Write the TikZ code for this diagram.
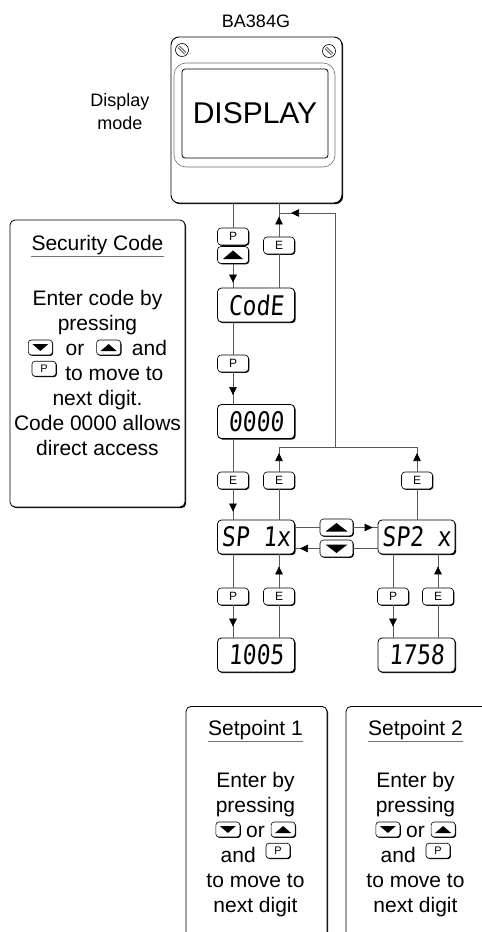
\documentclass[tikz,border=0pt]{standalone}
\usepackage{fontspec}
\setmainfont{Liberation Sans}
\newfontfamily\lcdfont[FakeSlant=0.08,FakeStretch=0.85]{DejaVu Sans Mono}
\usepackage{tikz}
\usetikzlibrary{arrows.meta, positioning, shadows, decorations.markings}

\tikzset{
  shadowed/.style={drop shadow={shadow xshift=1.2pt, shadow yshift=-1.2pt, fill=black, opacity=1}},
  housingbox/.style={draw, line width=0.9pt, rounded corners=8pt, fill=white, shadowed, minimum width=171pt, minimum height=166pt, inner sep=0pt},
  lcd/.style={draw, line width=0.8pt, rounded corners=4pt, fill=white, shadowed, minimum width=77pt, minimum height=34pt, inner sep=0pt, font=\lcdfont\fontsize{27}{27}\selectfont},
  key/.style={draw, line width=0.6pt, rounded corners=3.5pt, fill=white, drop shadow={shadow xshift=0.9pt, shadow yshift=-0.9pt, fill=black, opacity=1}, minimum width=31pt, minimum height=17pt, inner sep=0pt, font=\fontsize{12}{12}\selectfont},
  inkey/.style={key, rounded corners=3pt, minimum width=24pt, minimum height=15pt, font=\fontsize{11}{11}\selectfont},
  infobox/.style={draw, line width=0.8pt, rounded corners=5pt, fill=white, shadowed, inner sep=0pt},
  infotext/.style={anchor=base, inner sep=0pt, font=\fontsize{21}{25}\selectfont},
  uline/.style={draw=black!55, line width=0.8pt},
  conn/.style={draw=black!65, line width=0.6pt},
  tipat/.style={postaction={decorate}, decoration={markings, mark=at position #1 with {\arrow{Triangle[length=8pt, width=7.5pt, color=black]}}}},
  screw/.style={draw, line width=0.6pt, fill=white, circle, minimum size=13pt, inner sep=0pt}
}

% keys inside running text
\newcommand\kup{\tikz[x=1pt, y=1pt, baseline=-7.5pt]{\node[inkey] {}; \fill (-8,-3.5) -- (8,-3.5) -- (0,3.5) -- cycle;}}
\newcommand\kdown{\tikz[x=1pt, y=1pt, baseline=-7.5pt]{\node[inkey] {}; \fill (-8,3.5) -- (8,3.5) -- (0,-3.5) -- cycle;}}
\newcommand\kP{\tikz[x=1pt, y=1pt, baseline=-7.5pt]{\node[inkey] {P};}}

\begin{document}
\begin{tikzpicture}[x=1pt, y=-1pt]
  \useasboundingbox (0,0) rectangle (482,932);
  \clip (0,0) rectangle (482,932);

  % instrument
  \node (model) [anchor=base, font=\fontsize{18}{18}\selectfont] at (256,27) {BA384G};
  \node (housing) [housingbox] at (256.5,120) {};
  \draw[black!55, line width=0.6pt, rounded corners=12pt] (174,63) -- (335,63) -- (335,167) -- (174,167) -- cycle;
  \node (window) [draw, line width=0.8pt, rounded corners=3pt, minimum width=146pt, minimum height=89pt, font=\fontsize{30}{30}\selectfont] at (255,113.5) {DISPLAY};
  \foreach \sx/\sy [count=\i] in {182/50, 329/51} {
    \node (screw\i) [screw] at (\sx,\sy) {};
    \draw[line width=0.6pt] (\sx-4,\sy-2.5) -- (\sx+2.5,\sy+4) (\sx-2.5,\sy-4) -- (\sx+4,\sy+2.5);
  }
  \node (modelabel) [align=center, font=\fontsize{18}{23}\selectfont] at (120,112) {Display\\mode};

  % displays and keys
  \node (pkey1) [key] at (233,236.5) {P};
  \node (upkey1) [key] at (233,255) {};
  \node (ekey1) [key] at (279,245.5) {E};
  \node (code) [lcd] at (256,305) {CodE};
  \node (pkey2) [key] at (233,363.5) {P};
  \node (zero) [lcd] at (256,421.5) {0000};
  \node (ekey2) [key] at (233,480.5) {E};
  \node (ekey3) [key] at (279,480.5) {E};
  \node (ekey4) [key] at (417,480.5) {E};
  \node (sp1) [lcd] at (256,537) {SP 1x};
  \node (sp2) [lcd] at (416.5,537) {SP2 x};
  \node (upkey2) [key, minimum width=33pt] at (336.5,527.5) {};
  \node (dnkey2) [key, minimum width=33pt] at (336.5,548.5) {};
  \node (pkey3) [key] at (233,596.5) {P};
  \node (ekey5) [key] at (279,596.5) {E};
  \node (pkey4) [key] at (393,596.5) {P};
  \node (ekey6) [key] at (438,596.5) {E};
  \node (val1) [lcd] at (256,655) {1005};
  \node (val2) [lcd] at (416.5,655) {1758};
  \fill[shift={(upkey1.center)}] (-10,4) -- (10,4) -- (0,-4.5) -- cycle;
  \fill[shift={(upkey2.center)}] (-11,4) -- (11,4) -- (0,-4.5) -- cycle;
  \fill[shift={(dnkey2.center)}] (-11,-4) -- (11,-4) -- (0,4.5) -- cycle;

  % connectors
  \coordinate (looptop) at (335,213);
  \coordinate (loopbot) at (335,447);
  \draw[conn] (housing.south -| pkey1) -- (pkey1.north);
  \draw[conn, tipat=-5pt] (upkey1.south) -- (code.north -| upkey1);
  \draw[conn] (code.north -| ekey1) -- (ekey1.south);
  \draw[conn, tipat=-13pt] (ekey1.north) -- (housing.south -| ekey1);
  \draw[conn, tipat=-12pt] (loopbot) -- (looptop) -- (looptop -| ekey1);
  \draw[conn] (code.south -| pkey2) -- (pkey2.north);
  \draw[conn, tipat=-9pt] (pkey2.south) -- (zero.north -| pkey2);
  \draw[conn] (zero.south -| ekey2) -- (ekey2.north);
  \draw[conn, tipat=-8pt] (ekey2.south) -- (sp1.north -| ekey2);
  \draw[conn] (sp1.north -| ekey3) -- (ekey3.south);
  \draw[conn, tipat=-6pt] (ekey3.north) -- (loopbot -| ekey3);
  \draw[conn] (sp2.north -| ekey4) -- (ekey4.south);
  \draw[conn, tipat=-6pt] (ekey4.north) -- (loopbot -| ekey4);
  \draw[conn] (loopbot -| ekey3) -- (loopbot -| ekey4);
  \draw[conn] (sp1.east |- upkey2) -- (upkey2.west);
  \draw[conn, tipat=-5pt] (upkey2.east) -- (sp2.west |- upkey2);
  \draw[conn] (sp2.west |- dnkey2) -- (dnkey2.east);
  \draw[conn, tipat=-5pt] (dnkey2.west) -- (sp1.east |- dnkey2);
  \draw[conn] (sp1.south -| pkey3) -- (pkey3.north);
  \draw[conn, tipat=-11pt] (pkey3.south) -- (val1.north -| pkey3);
  \draw[conn] (val1.north -| ekey5) -- (ekey5.south);
  \draw[conn, tipat=-12pt] (ekey5.north) -- (sp1.south -| ekey5);
  \draw[conn] (sp2.south -| pkey4) -- (pkey4.north);
  \draw[conn, tipat=-11pt] (pkey4.south) -- (val2.north -| pkey4);
  \draw[conn] (val2.north -| ekey6) -- (ekey6.south);
  \draw[conn, tipat=-12pt] (ekey6.north) -- (sp2.south -| ekey6);

  % help boxes
  \node (secbox) [infobox, minimum width=175pt, minimum height=287pt] at (97.5,363.5) {};
  \node (sectitle) [infotext] at (97.5,250) {Security Code};
  \draw[uline] ([yshift=-1.5pt]sectitle.south west) -- ([yshift=-1.5pt]sectitle.south east);
  \foreach \txt [count=\i from 0] in {Enter code by, pressing, {\kdown\hspace{13pt}or\hspace{12pt}\kup\hspace{11pt}and}, {\kP\hspace{9pt}to move to}, next digit., Code 0000 allows, direct access}
    \node[infotext] at (97.5,305+25*\i) {\txt};

  \node (setbox1) [infobox, anchor=north, minimum width=141pt, minimum height=260pt] at (256.5,706) {};
  \node (setbox2) [infobox, anchor=north, minimum width=141pt, minimum height=260pt] at (416.5,706) {};
  \foreach \cx/\n in {255.5/1, 415.5/2} {
    \node (settitle\n) [infotext] at (\cx,735) {Setpoint \n};
    \draw[uline] ([yshift=-1.5pt]settitle\n.south west) -- ([yshift=-1.5pt]settitle\n.south east);
    \foreach \txt [count=\i from 0] in {Enter by, pressing, {\kdown\hspace{6pt}or\hspace{6pt}\kup}, {and\hspace{10pt}\kP}, to move to, next digit}
      \node[infotext] at (\cx,787+25*\i) {\txt};
  }
\end{tikzpicture}
\end{document}
